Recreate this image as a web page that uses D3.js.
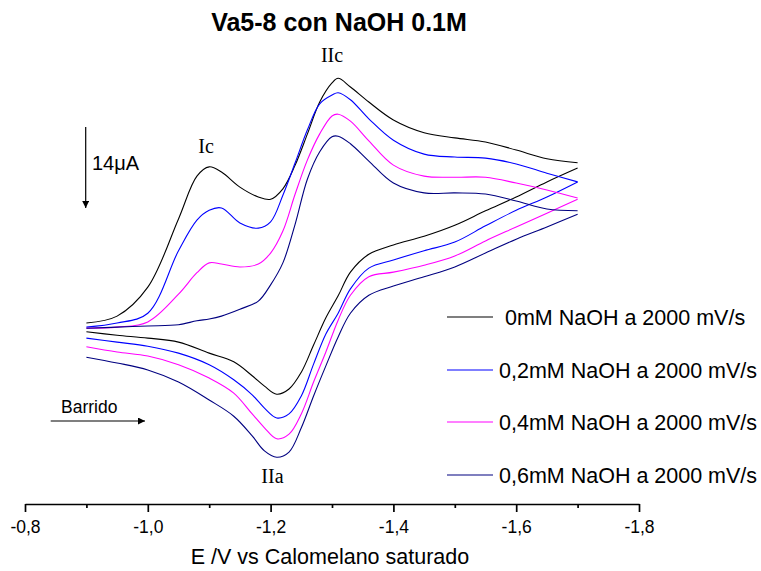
<!DOCTYPE html>
<html>
<head>
<meta charset="utf-8">
<script src="https://cdn.jsdelivr.net/npm/d3@7"></script>
<style>
  html, body { margin: 0; padding: 0; background: #fff; }
  svg { display: block; }
  text { font-family: Arial, "Liberation Sans", sans-serif; fill: #000; }
</style>
</head>
<body>
<svg id="chart" width="761" height="571"></svg>
<script>
// ---------------- data ----------------
const title = "Va5-8 con NaOH 0.1M";
const xTitle = "E /V vs Calomelano saturado";
const xTicks = [-0.8, -1.0, -1.2, -1.4, -1.6, -1.8];
const xMinorTicks = [-0.9, -1.1, -1.3, -1.5, -1.7];

// forward (cathodic) scan potentials, V
const potForward = [-0.90, -0.95, -1.00, -1.05, -1.08, -1.10, -1.12, -1.15, -1.18, -1.20,
                    -1.22, -1.24, -1.26, -1.28, -1.30, -1.31, -1.33, -1.36, -1.40, -1.45,
                    -1.50, -1.55, -1.60, -1.65, -1.70];
// reverse (anodic) scan potentials, V
const potReverse = [-1.70, -1.65, -1.60, -1.55, -1.50, -1.45, -1.40, -1.36, -1.33, -1.31,
                    -1.29, -1.27, -1.25, -1.23, -1.21, -1.19, -1.17, -1.14, -1.10, -1.05,
                    -1.00, -0.95, -0.90];

// current, µA (cathodic drawn upward)
const fwd0mM  = [1.2, 2.4, 7.4, 19.2, 26.6, 28.2, 27.3, 24.7, 23.0, 22.6, 24.4, 28.5, 33.9, 39.4, 42.7, 43.5, 42.0, 39.4, 36.3, 34.1, 33.2, 32.5, 31.1, 29.6, 28.9];
const rev0mM  = [28.0, 25.6, 23.0, 20.6, 18.1, 16.2, 14.7, 13.1, 10.0, 5.9, 2.1, -2.6, -7.3, -10.2, -11.1, -9.7, -7.9, -5.5, -4.0, -2.1, -1.4, -0.9, -0.3];
const fwd02mM = [0.5, 1.2, 2.9, 13.7, 19.0, 20.7, 21.1, 18.5, 17.6, 18.7, 23.3, 28.9, 34.6, 39.1, 40.6, 41.0, 39.8, 36.5, 32.8, 30.4, 29.9, 29.7, 28.7, 27.1, 25.6];
const rev02mM = [25.6, 23.0, 20.7, 18.0, 15.2, 13.7, 12.1, 10.7, 7.1, 2.9, -0.7, -5.9, -11.4, -14.5, -15.2, -13.5, -11.2, -8.6, -6.0, -4.0, -2.8, -2.1, -1.4];
const fwd04mM = [0.3, 0.5, 1.4, 6.2, 9.9, 11.6, 11.4, 10.9, 11.4, 13.3, 17.1, 23.5, 29.4, 33.9, 37.0, 37.3, 36.1, 32.7, 28.5, 26.6, 26.4, 26.4, 25.4, 24.2, 22.8];
const rev04mM = [22.6, 20.2, 17.8, 15.4, 12.8, 11.2, 10.0, 9.2, 6.0, 1.7, -3.8, -9.0, -14.5, -18.0, -18.8, -16.9, -14.5, -10.9, -8.3, -6.0, -4.5, -3.8, -2.9];
const fwd06mM = [0.3, 0.5, 0.7, 0.9, 1.6, 1.9, 2.4, 3.6, 5.0, 7.8, 11.6, 18.3, 26.1, 30.8, 33.4, 33.5, 32.2, 29.2, 25.4, 23.7, 23.7, 23.5, 22.3, 20.9, 20.6];
const rev06mM = [20.0, 17.8, 15.7, 13.3, 10.9, 9.2, 7.6, 6.0, 2.9, -1.2, -6.2, -11.4, -16.9, -21.1, -22.0, -20.9, -18.3, -14.9, -12.1, -9.0, -6.9, -5.7, -4.7];

const seriesNames = [" 0mM NaOH a 2000 mV/s", "0,2mM NaOH a 2000 mV/s",
                     "0,4mM NaOH a 2000 mV/s", "0,6mM NaOH a 2000 mV/s"];
const seriesColors = ["#000000", "#0000ff", "#ff00ff", "#000080"];
const seriesFwd = [fwd0mM, fwd02mM, fwd04mM, fwd06mM];
const seriesRev = [rev0mM, rev02mM, rev04mM, rev06mM];

const scaleBarValue = 14;   // µA
const peakLabels = [
  { text: "Ic",  E: -1.095, I: 30.6 },
  { text: "IIc", E: -1.30,  I: 46.4 },
  { text: "IIa", E: -1.203, I: -26.5 }
];

// ---------------- layout ----------------
const svg = d3.select("#chart");
const x = d3.scaleLinear().domain([-0.8, -1.8]).range([25, 639]);
const pxPerUA = 81 / 14;
const y = d3.scaleLinear().domain([-30, 50]).range([330 + 30 * pxPerUA, 330 - 50 * pxPerUA]);
const axisY = 504;

// title
svg.append("text").attr("x", 339).attr("y", 31).attr("text-anchor", "middle")
  .style("font-size", "25px").style("font-weight", "bold").text(title);

// x axis
const fmt = d => d3.format(".1f")(d).replace(".", ",").replace("\u2212", "-");
const gx = svg.append("g").attr("transform", `translate(0,${axisY})`)
  .call(d3.axisBottom(x).tickValues(xTicks).tickFormat(fmt).tickSize(8).tickPadding(9).tickSizeOuter(0));
gx.select(".domain").attr("stroke", "#000").attr("stroke-width", 1.7);
gx.selectAll(".tick line").attr("stroke", "#000").attr("stroke-width", 1.7);
gx.selectAll(".tick text").style("font-size", "17.5px").attr("font-family", null);
const gm = svg.append("g").attr("transform", `translate(0,${axisY})`)
  .call(d3.axisBottom(x).tickValues(xMinorTicks).tickFormat("").tickSize(4).tickSizeOuter(0));
gm.select(".domain").remove();
gm.selectAll(".tick line").attr("stroke", "#000").attr("stroke-width", 1.7);

svg.append("text").attr("x", 330).attr("y", 564).attr("text-anchor", "middle")
  .style("font-size", "21.5px").text(xTitle);

// curves
const line = d3.line().x(d => x(d[0])).y(d => y(d[1])).curve(d3.curveCatmullRom.alpha(0.5));
seriesFwd.forEach((vals, i) => {
  const fw = potForward.map((e, j) => [e, vals[j]]);
  const rv = potReverse.map((e, j) => [e, seriesRev[i][j]]);
  [fw, rv].forEach(pts => {
    svg.append("path").datum(pts).attr("d", line)
      .attr("fill", "none").attr("stroke", seriesColors[i]).attr("stroke-width", 1.1)
      .attr("stroke-linejoin", "round");
  });
});

// peak labels
peakLabels.forEach(p => {
  svg.append("text").attr("x", x(p.E)).attr("y", y(p.I))
    .attr("text-anchor", "middle").style("font-size", "20px")
    .style("font-family", "'Times New Roman', 'Liberation Serif', serif").text(p.text);
});

// arrow marker
const defs = svg.append("defs");
defs.append("marker").attr("id", "arrowV").attr("viewBox", "0 0 10 10")
  .attr("refX", 10).attr("refY", 5).attr("markerUnits", "userSpaceOnUse")
  .attr("markerWidth", 13).attr("markerHeight", 7).attr("orient", "auto")
  .append("path").attr("d", "M0,0 L10,5 L0,10 Z").attr("fill", "#000");

// scale bar (14 µA)
const sbTop = 35.1;
svg.append("line").attr("x1", 85.7).attr("x2", 85.7)
  .attr("y1", y(sbTop)).attr("y2", y(sbTop - scaleBarValue))
  .attr("stroke", "#000").attr("stroke-width", 1.2).attr("marker-end", "url(#arrowV)");
svg.append("text").attr("x", 92).attr("y", 170).style("font-size", "20px").text("14\u03bcA");

// scan direction
svg.append("text").attr("x", 61).attr("y", 413).style("font-size", "17.5px").text("Barrido");
svg.append("line").attr("x1", 50.7).attr("x2", 145).attr("y1", 421).attr("y2", 421)
  .attr("stroke", "#000").attr("stroke-width", 1.2).attr("marker-end", "url(#arrowV)");

// legend
const legendY = [317, 370, 422, 475];
seriesNames.forEach((name, i) => {
  svg.append("line").attr("x1", 447).attr("x2", 493).attr("y1", legendY[i]).attr("y2", legendY[i])
    .attr("stroke", seriesColors[i]).attr("stroke-width", 1.1);
  svg.append("text").attr("x", 499).attr("y", legendY[i] + 7.5)
    .style("font-size", "21.5px").style("white-space", "pre").text(name);
});
</script>
</body>
</html>
